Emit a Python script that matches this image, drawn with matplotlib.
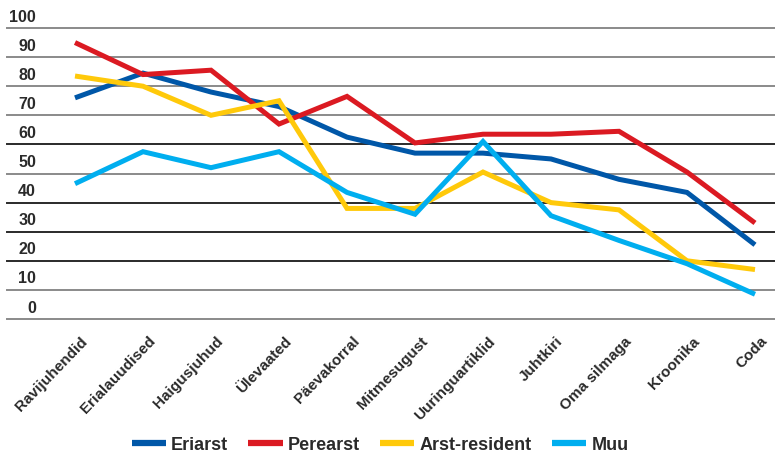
import numpy as np
import matplotlib.pyplot as plt
import matplotlib.transforms as mtransforms

plt.rcParams['font.family'] = ['Liberation Sans', 'DejaVu Sans']

categories = ["Ravijuhendid", "Erialauudised", "Haigusjuhud", "Ülevaated", "Päevakorral",
              "Mitmesugust", "Uuringuartiklid", "Juhtkiri", "Oma silmaga", "Kroonika", "Coda"]
eriarst = [76, 84.5, 78, 73, 62.5, 57, 57, 55, 48, 43.5, 25.5]
perearst = [95, 84, 85.5, 67, 76.5, 60.5, 63.5, 63.5, 64.5, 50.5, 33]
arst_resident = [83.5, 80, 70, 75, 38, 38, 50.5, 40, 37.5, 20, 17]
muu = [46.5, 57.5, 52, 57.5, 43.5, 36, 61, 35.5, 27, 19, 8.5]
y_ticks = [0, 10, 20, 30, 40, 50, 60, 70, 80, 90, 100]

series = [("Eriarst", eriarst, "#0057a8"),
          ("Perearst", perearst, "#db1a22"),
          ("Arst-resident", arst_resident, "#ffc90a"),
          ("Muu", muu, "#00aeef")]

W, H = 775, 461
fig = plt.figure(figsize=(W / 100, H / 100), dpi=100)
ax = fig.add_axes([7 / W, (H - 319) / H, 1 - 7 / W, (319 - 28) / H])

x = np.arange(len(categories))
# index 0 at px 75, spacing 68 px
ax.set_xlim(-68 / 68, (775 - 75) / 68)
ax.set_ylim(0, 100)

dark = {20, 30, 40, 60}
for v in y_ticks:
    ax.axhline(v, color="#2a2a2a" if v in dark else "#8a8a8a", lw=1.4, zorder=1, clip_on=False)
    ax.text(29 / 768, v + 1.2, str(v), transform=ax.get_yaxis_transform(),
            ha="right", va="bottom", fontsize=11.5, fontweight="bold", color="#2a2a2a")

for name, vals, col in series:
    ax.plot(x, vals, color=col, lw=3.6, label=name, zorder=3, solid_capstyle="butt",
            solid_joinstyle="miter", clip_on=False)

for s in ax.spines.values():
    s.set_visible(False)
ax.set_yticks([])
ax.set_xticks(x)
ax.set_xticklabels(categories, rotation=46, ha="right", va="top", rotation_mode="anchor",
                   fontsize=11, fontweight="bold", color="#2a2a2a")
ax.tick_params(axis="x", length=0, pad=11)
offset = mtransforms.ScaledTranslation(0.05, 0, fig.dpi_scale_trans)
for lab in ax.get_xticklabels():
    lab.set_transform(lab.get_transform() + offset)

handles, labels = ax.get_legend_handles_labels()
leg = fig.legend(handles, labels, loc="center", bbox_to_anchor=(380 / W, 16 / H), ncol=4,
                 frameon=False, handlelength=1.9, handletextpad=0.3, columnspacing=1.1,
                 prop={"size": 13, "weight": "bold"})
for line in leg.get_lines():
    line.set_linewidth(4.5)
for t in leg.get_texts():
    t.set_color("#2a2a2a")

fig.savefig("out.png", dpi=100)
